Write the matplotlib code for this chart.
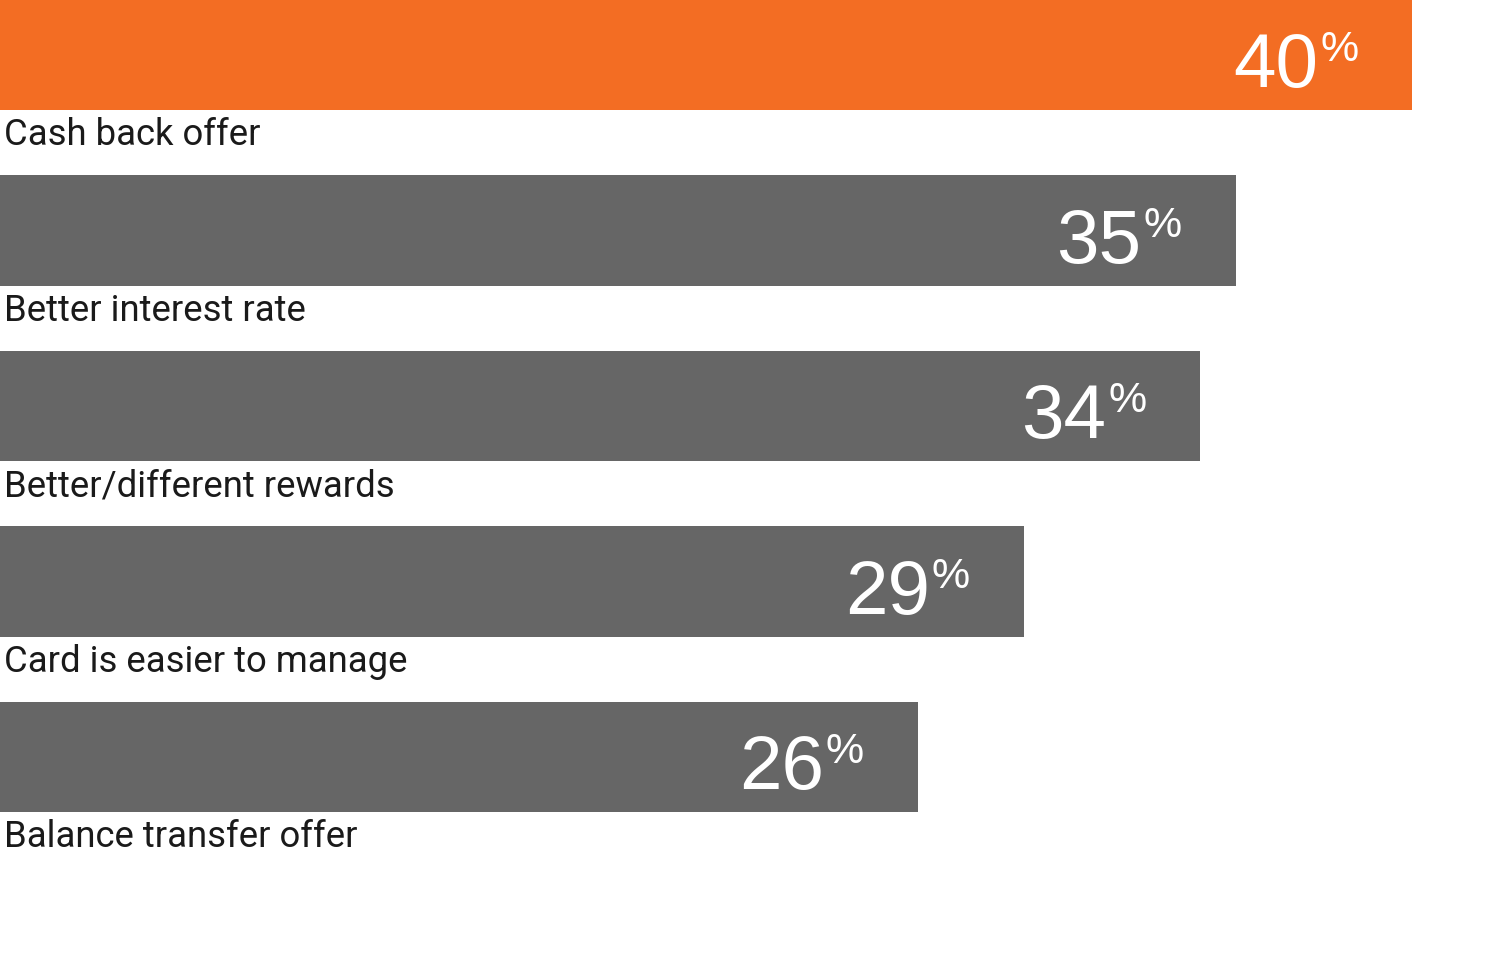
import matplotlib
matplotlib.use("Agg")
import matplotlib.pyplot as plt

labels = ["Cash back offer", "Better interest rate", "Better/different rewards",
          "Card is easier to manage", "Balance transfer offer"]
values = [40, 35, 34, 29, 26]
colors = ["#F36D23", "#666666", "#666666", "#666666", "#666666"]

plt.rcParams['font.family'] = ['Liberation Sans', 'DejaVu Sans']

fig = plt.figure(figsize=(15, 9.75), dpi=100)
ax = fig.add_axes([0, 0, 1, 1])

pos = list(range(len(values)))
ax.barh(pos, values, height=0.627, color=colors, left=0)
ax.set_xlim(0, 1500 / 35.3)
ax.set_ylim(5.242, -0.3134)
ax.axis('off')

for i, (lab, v) in enumerate(zip(labels, values)):
    # category label under the bar
    ax.annotate(lab, xy=(0, i), xytext=(4, -90), textcoords='offset pixels',
                ha='left', va='baseline', fontsize=26.3, color='#1a1a1a',
                family=['Roboto', 'DejaVu Sans'])
    # big number + small percent sign
    ax.annotate(str(v), xy=(v, i), xytext=(-94, -32), textcoords='offset pixels',
                ha='right', va='baseline', fontsize=55, color='white')
    ax.annotate('%', xy=(v, i), xytext=(-92, -6), textcoords='offset pixels',
                ha='left', va='baseline', fontsize=31, color='white')

fig.savefig("out.png", dpi=100)
